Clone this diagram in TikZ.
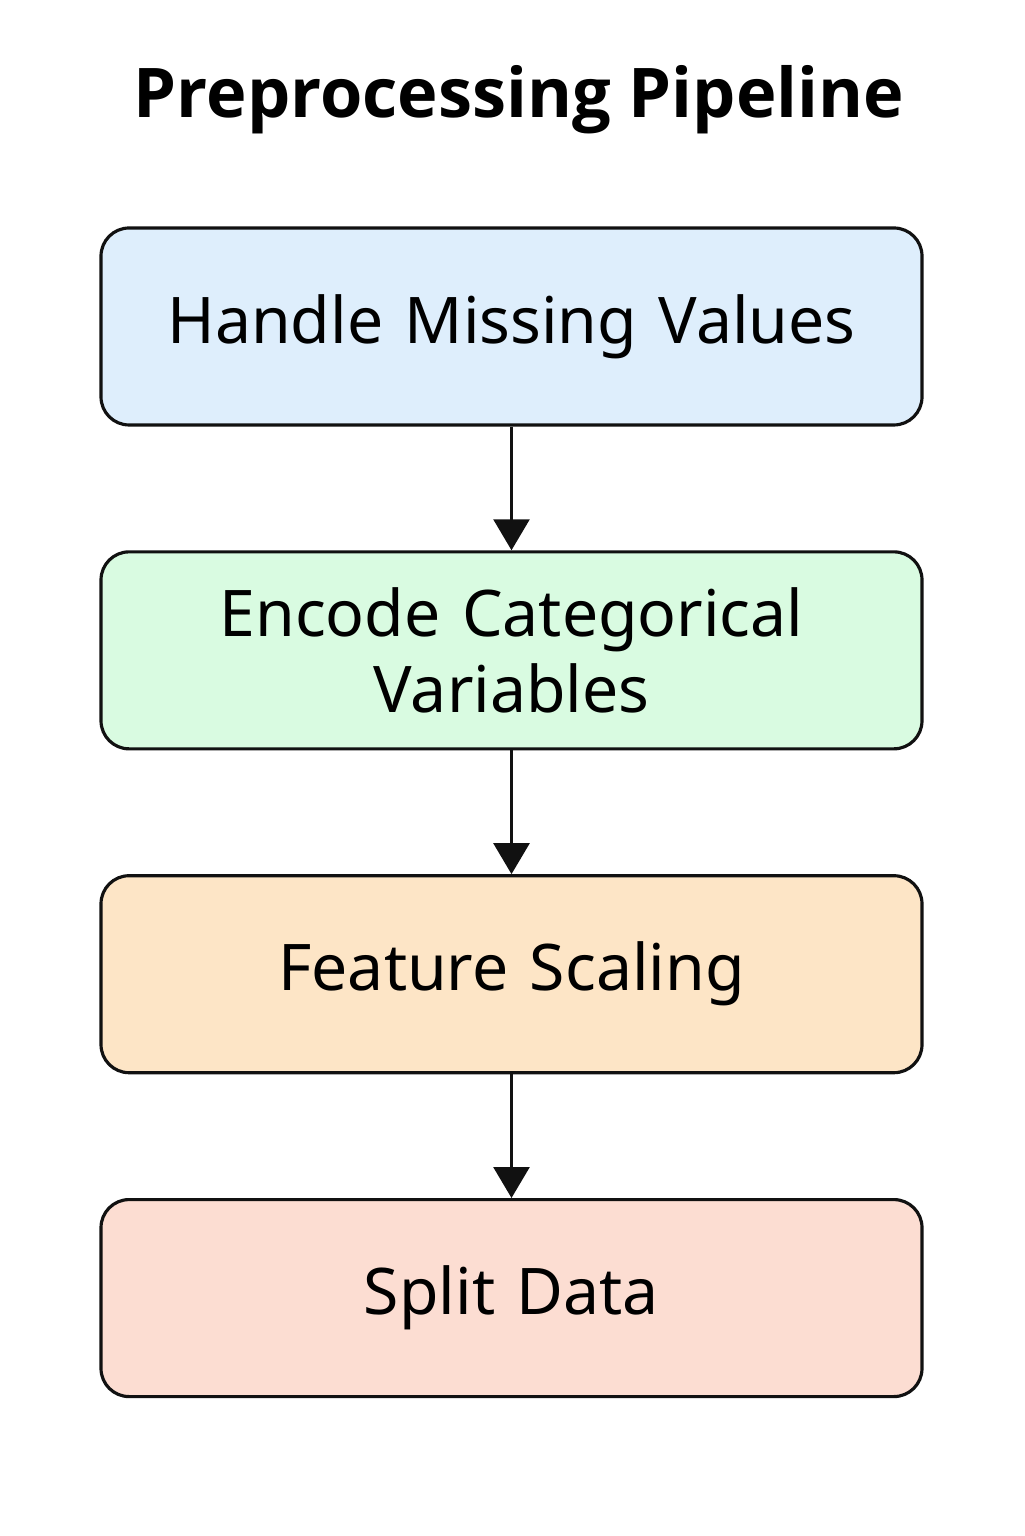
\documentclass[tikz,border=0pt]{standalone}
\usepackage{fontspec}
\setmainfont{Noto Sans}
\newfontfamily\titlefont{Open Sans}
\usetikzlibrary{arrows.meta,positioning}
\definecolor{StepBlue}{HTML}{DEEEFC}
\definecolor{StepGreen}{HTML}{D9FBE1}
\definecolor{StepPeach}{HTML}{FDE5C6}
\definecolor{StepRose}{HTML}{FCDDD2}
\definecolor{LineBlack}{HTML}{111111}

\begin{document}
\begin{tikzpicture}[
    stepbox/.style={draw=LineBlack, line width=0.9pt, rounded corners=8pt, minimum width=8.21cm, minimum height=1.97cm, text width=8cm, align=center, font=\fontsize{18.3}{21.8}\selectfont, inner sep=0pt},
    title/.style={font=\titlefont\fontsize{19.5}{23}\selectfont\bfseries},
    arr/.style={-{Triangle[length=0.31cm, width=0.36cm]}, draw=LineBlack, line width=0.8pt},
    node distance=1.237cm
  ]
    \useasboundingbox (0,0) rectangle (10.24,15.36);
    \node[title] (head) at (5.19, 14.36) {Preprocessing Pipeline};

    \node[stepbox, fill=StepBlue] (missing) at (5.115, 12.095) {Handle Missing Values};
    \node[stepbox, fill=StepGreen, below=of missing] (encode) {Encode Categorical\\Variables};
    \node[stepbox, fill=StepPeach, below=of encode] (scale) {Feature Scaling};
    \node[stepbox, fill=StepRose, below=of scale] (split) {Split Data};

    \draw[arr] (missing) -- (encode);
    \draw[arr] (encode) -- (scale);
    \draw[arr] (scale) -- (split);
  \end{tikzpicture}
\end{document}
